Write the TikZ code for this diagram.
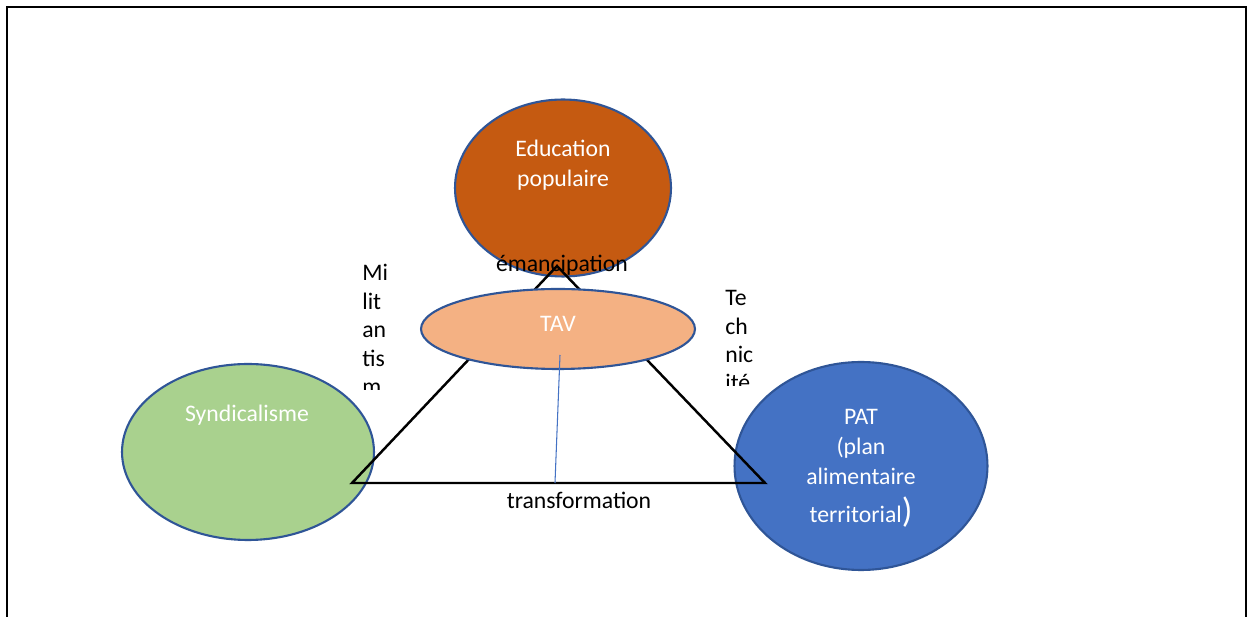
\documentclass[tikz,border=0pt]{standalone}
\usepackage{fontspec}
\setmainfont{Carlito}
\usetikzlibrary{shapes.geometric}

\definecolor{eduorange}{HTML}{C55A11}
\definecolor{tavpeach}{HTML}{F4B183}
\definecolor{syngreen}{HTML}{A9D18E}
\definecolor{patblue}{HTML}{4472C4}
\definecolor{rimblue}{HTML}{2F5597}

\tikzset{
  bubble/.style={ellipse, draw=rimblue, line width=1.2pt, inner sep=0pt},
  whitetxt/.style={text=white, align=center, inner sep=0pt, font=\fontsize{13.5}{17}\selectfont},
  blacktxt/.style={text=black, align=center, inner sep=0pt, font=\fontsize{13.5}{16.5}\selectfont},
  stacktxt/.style={text=black, align=left, anchor=north west, inner sep=0pt, font=\fontsize{13.5}{16.2}\selectfont}
}

\begin{document}
\begin{tikzpicture}[x=0.02cm, y=-0.02cm]
	\useasboundingbox (0,0) rectangle (1248,617);
	\fill[white] (0,0) rectangle (1248,617);

	% frame
	\draw[line width=1.3pt] (7,617) -- (7,7) -- (1246,7) -- (1246,617);

	% the three outer poles
	\node[bubble, fill=eduorange, minimum width=4.32cm, minimum height=3.54cm] (edu) at (563,188) {};
	\node[bubble, fill=syngreen, minimum width=5.04cm, minimum height=3.52cm] (syn) at (248,452) {};
	\node[bubble, fill=patblue, minimum width=5.06cm, minimum height=4.16cm] (pat) at (861,466) {};

	% triangle
	\coordinate (top) at (557,266);
	\coordinate (left) at (352,483);
	\coordinate (right) at (765,483);
	\draw[line width=1.4pt] (top) -- (left) -- (right) -- cycle;

	% centre
	\node[bubble, fill=tavpeach, minimum width=5.48cm, minimum height=1.6cm] (tav) at (558,329) {};
	\coordinate (tavfoot) at (560,355);
	\coordinate (base) at (555,483);
	\draw[patblue, line width=0.6pt] (tavfoot) -- (base);

	% texts
	\node[whitetxt] (edutxt) at (563,165) {Education\\populaire};
	\node[whitetxt] (tavtxt) at (558,324) {TAV};
	\node[whitetxt] (syntxt) at (247,415) {Syndicalisme};
	\node[whitetxt, anchor=north] (pattxt) at (861,409) {PAT\\(plan\\alimentaire\\[5pt]territorial{\fontsize{20}{17}\selectfont)}};
	\node[blacktxt] (emanc) at (562,265) {émancipation};
	\node[blacktxt] (transf) at (579,500) {transformation};

	\begin{scope}
		\clip (355,255) rectangle (420,390);
		\node[stacktxt] (milit) at (362,264) {Mi\\lit\\an\\tis\\m};
	\end{scope}
	\begin{scope}
		\clip (718,280) rectangle (790,386);
		\node[stacktxt] (techn) at (725,290) {Te\\ch\\nic\\ité};
	\end{scope}
\end{tikzpicture}
\end{document}
